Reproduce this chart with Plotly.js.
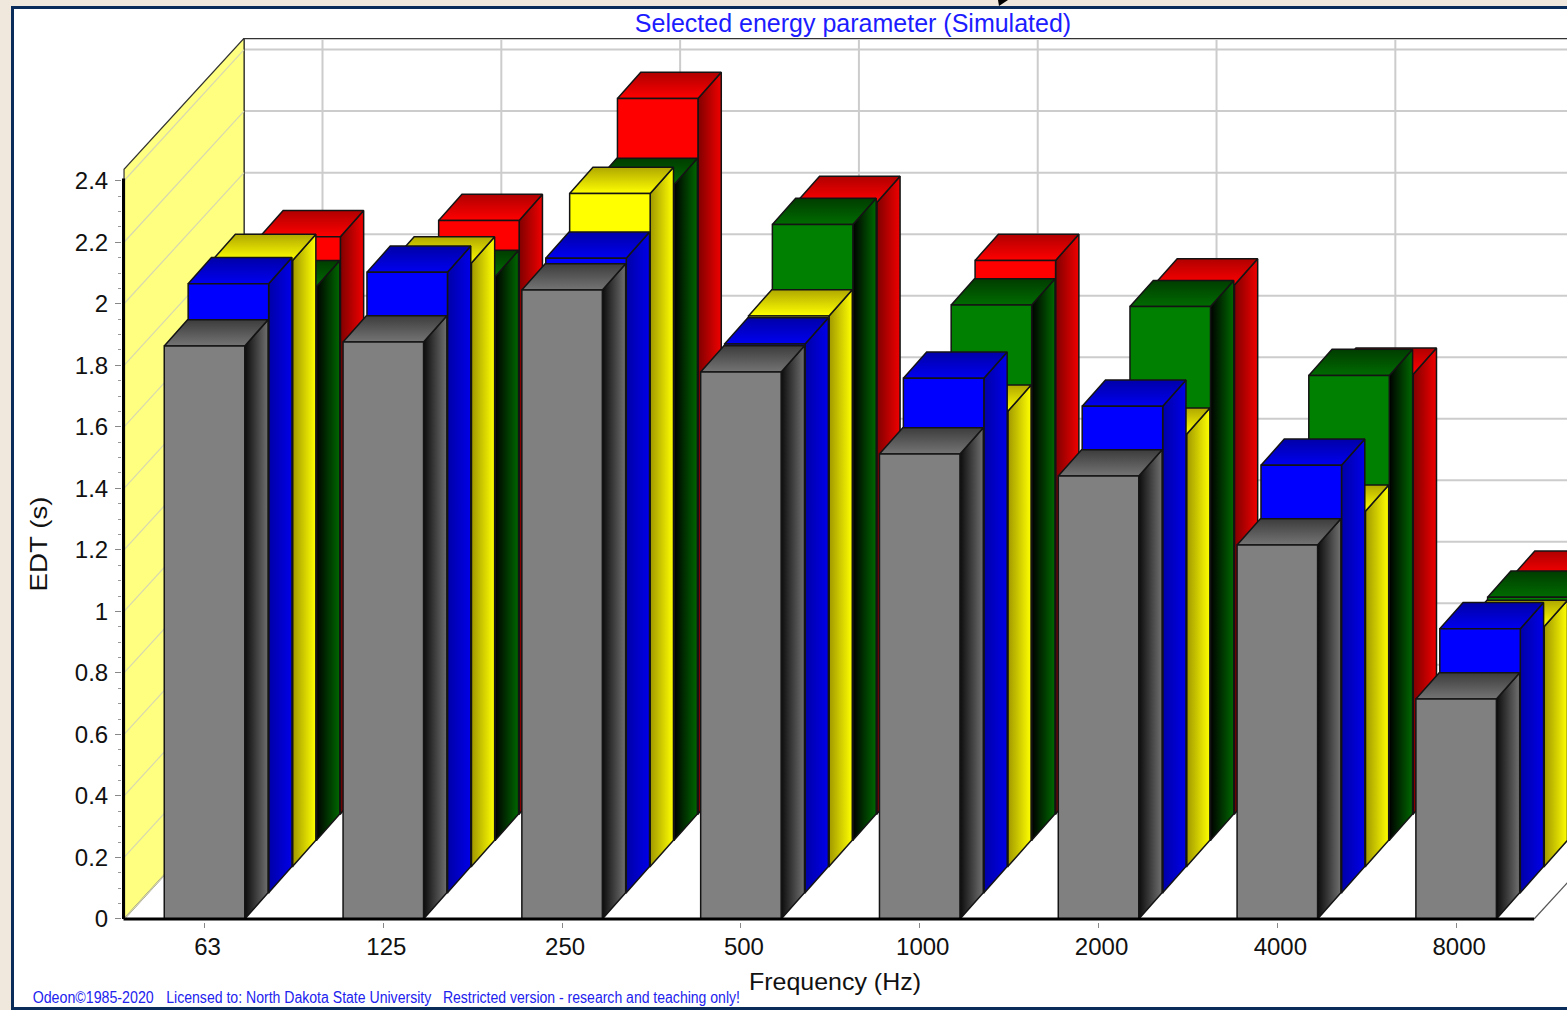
<!DOCTYPE html>
<html>
<head>
<meta charset="utf-8">
<script src="https://cdn.plot.ly/plotly-3.0.1.min.js"></script>
<style>
html,body{margin:0;padding:0;width:1567px;height:1010px;overflow:hidden;background:#f0e8dc}
#frame{position:absolute;left:11px;top:6px;width:1556px;height:1004px;box-sizing:border-box;background:#fff;
border-left:3px solid #0a2c5a;border-top:3px solid #0a2c5a;border-bottom:3px solid #0a2c5a}
#mark{position:absolute;left:998px;top:0;width:10px;height:6px;background:#000;clip-path:polygon(0 0,100% 0,10% 100%)}
#chart{position:absolute;left:0;top:0;width:1567px;height:1010px}
</style>
</head>
<body>
<div id="frame"></div>
<div id="mark"></div>
<div id="chart"></div>
<script>
var categories = ['63','125','250','500','1000','2000','4000','8000'];
var grayValues   = [1.863,1.876,2.045,1.778,1.512,1.440,1.216,0.715];
var blueValues   = [1.980,2.017,2.063,1.784,1.673,1.582,1.390,0.858];
var yellowValues = [1.970,1.962,2.188,1.790,1.480,1.405,1.155,0.780];
var greenValues  = [1.800,1.833,2.132,2.002,1.740,1.735,1.511,0.790];
var redValues    = [1.877,1.930,2.326,1.988,1.800,1.720,1.430,0.770];
var yTicks = [0,0.2,0.4,0.6,0.8,1,1.2,1.4,1.6,1.8,2,2.2,2.4];
var yMinorTicks = [0.05,0.1,0.15,0.25,0.3,0.35,0.45,0.5,0.55,0.65,0.7,0.75,0.85,0.9,0.95,1.05,1.1,1.15,1.25,1.3,1.35,1.45,1.5,1.55,1.65,1.7,1.75,1.85,1.9,1.95,2.05,2.1,2.15,2.25,2.3,2.35];

// Pseudo-3D projection, expressed in axis units
var dx = 23.9/178.8, sideDx = 23.3/178.8, dy = 26.2/307.3, barW = 80.5/178.8;
var depthX = 120/178.8, depthY = 5*dy;
var gridDx = 118/178.8;
var wallX = -0.450, axisEnd = 7.436, wallTop = 2.437;
var xRange = [-0.4614, 7.620], yRange = [-0.0098, 2.864];

var seriesBackToFront = [
  {name:'red',    k:4, v:redValues,    front:'#ff0000', side:['#800000','#f00000'], top:['#ff0000','#b00000']},
  {name:'green',  k:3, v:greenValues,  front:'#008000', side:['#000000','#006800'], top:['#006c00','#003c00']},
  {name:'yellow', k:2, v:yellowValues, front:'#ffff00', side:['#a09800','#ffff00'], top:['#ffff00','#b0a800']},
  {name:'blue',   k:1, v:blueValues,   front:'#0000ff', side:['#0000a8','#0000e8'], top:['#0000f0','#0000a8']},
  {name:'gray',   k:0, v:grayValues,   front:'#808080', side:['#0c0c0c','#707070'], top:['#747474','#3c3c3c']}
];

var traces = [];
function line(xs, ys, color, width){
  traces.push({type:'scatter',mode:'lines',x:xs,y:ys,line:{color:color,width:width},hoverinfo:'skip',showlegend:false});
}
function poly(xs, ys, opts){
  var t = {type:'scatter',mode:'lines',x:xs.concat(xs[0]),y:ys.concat(ys[0]),fill:'toself',
    line:{color:'#141414',width:1.5},hoverinfo:'skip',showlegend:false};
  for (var key in opts) t[key] = opts[key];
  traces.push(t);
}

// back wall grid
yTicks.forEach(function(v){ line([wallX+depthX, xRange[1]],[v+depthY,v+depthY],'#cccccc',2); });
categories.forEach(function(c,i){ line([i+gridDx,i+gridDx],[depthY,wallTop+depthY-0.006],'#cccccc',2); });
line([wallX+depthX,xRange[1]],[wallTop+depthY,wallTop+depthY],'#333333',2);
line([wallX+depthX,wallX+depthX],[depthY,wallTop+depthY],'#333333',1.5);

// left wall and its grid
poly([wallX,wallX+depthX,wallX+depthX,wallX],[0,depthY,wallTop+depthY,wallTop],{fillcolor:'#ffff80',line:{color:'#333333',width:1.2}});
yTicks.forEach(function(v){ line([wallX,wallX+depthX],[v,v+depthY],'#d8d8b0',1.2); });

// floor edge on the right
line([axisEnd,axisEnd+depthX],[0,depthY],'#555555',1.2);

// bars
seriesBackToFront.forEach(function(s){
  categories.forEach(function(c,i){
    var x0 = i + s.k*dx - barW/2, x1 = x0 + barW;
    var yb = s.k*dy, yt = yb + s.v[i];
    poly([x1,x1+sideDx,x1+sideDx,x1],[yb,yb+dy,yt+dy,yt],{
      fillgradient:{type:'horizontal',colorscale:[[0,s.side[0]],[1,s.side[1]]]}});
    poly([x0,x1,x1+sideDx,x0+sideDx],[yt,yt,yt+dy,yt+dy],{
      fillgradient:{type:'vertical',colorscale:[[0,s.top[0]],[1,s.top[1]]]}});
    poly([x0,x1,x1,x0],[yb,yb,yt,yt],{fillcolor:s.front});
  });
});

// axis lines
line([wallX-0.003,wallX-0.003],[0,2.407],'#000000',3.2);
line([wallX-0.003,axisEnd],[0,0],'#000000',3);

var tickFont = {family:'"Liberation Sans",Arial,sans-serif',size:24,color:'#111111'};
var noteFont = {family:'"Liberation Sans",Arial,sans-serif',size:16,color:'#2222ee'};
var mL=122,mT=38,mB=88,mR=0,plotW=1567-mL-mR,plotH=1010-mT-mB;
function noteAt(text,px){
  return {text:text,xref:'paper',yref:'paper',x:(px-mL)/plotW,y:(1010-mB-998)/plotH,xanchor:'left',yanchor:'middle',showarrow:false,font:noteFont};
}
var noteWidths = [121,265,297];

var layout = {
  width:1567,height:1010,
  margin:{l:mL,r:mR,t:mT,b:mB,pad:0},
  paper_bgcolor:'rgba(0,0,0,0)',plot_bgcolor:'rgba(0,0,0,0)',
  showlegend:false,
  title:{text:'Selected energy parameter (Simulated)',x:853/1567,xanchor:'center',y:1-23/1010,yanchor:'middle',
    font:{family:'"Liberation Sans",Arial,sans-serif',size:25,color:'#1c1cff'}},
  xaxis:{range:xRange,tickmode:'array',tickvals:categories.map(function(c,i){return i;}),ticktext:categories,
    showgrid:false,zeroline:false,showline:false,ticks:'outside',ticklen:5,tickcolor:'#888888',tickwidth:1,
    ticklabelshift:3,ticklabelstandoff:-2,tickfont:tickFont,fixedrange:true,
    title:{text:'Frequency (Hz)',font:tickFont,standoff:8}},
  yaxis:{range:yRange,tickmode:'array',tickvals:yTicks,ticktext:yTicks.map(String),
    showgrid:false,zeroline:false,showline:false,ticks:'outside',ticklen:6,tickcolor:'#888888',tickwidth:1,
    ticklabelstandoff:2,tickfont:tickFont,fixedrange:true,
    minor:{tickmode:'array',tickvals:yMinorTicks,ticks:'outside',ticklen:3,tickcolor:'#999999',tickwidth:1,showgrid:false},
    title:{text:'EDT (s)',font:tickFont,standoff:14}},
  annotations:[
    noteAt('Odeon©1985-2020',23),
    noteAt('Licensed to: North Dakota State University',146),
    noteAt('Restricted version - research and teaching only!',420)
  ]
};

function fitWidth(el,w){ el.setAttribute('textLength',w); el.setAttribute('lengthAdjust','spacingAndGlyphs'); }

Plotly.newPlot('chart',traces,layout,{displayModeBar:false,staticPlot:true}).then(function(){
  var xt=document.querySelector('.xtitle');
  if(xt){xt.setAttribute('x',835);xt.setAttribute('y',990);fitWidth(xt,172);}
  var yt=document.querySelector('.ytitle');
  if(yt){yt.setAttribute('x',47);yt.setAttribute('y',544);yt.setAttribute('transform','rotate(-90,47,544)');fitWidth(yt,95);}
  document.querySelectorAll('.annotation-text').forEach(function(el,i){ fitWidth(el,noteWidths[i]); });
});
</script>
</body>
</html>
